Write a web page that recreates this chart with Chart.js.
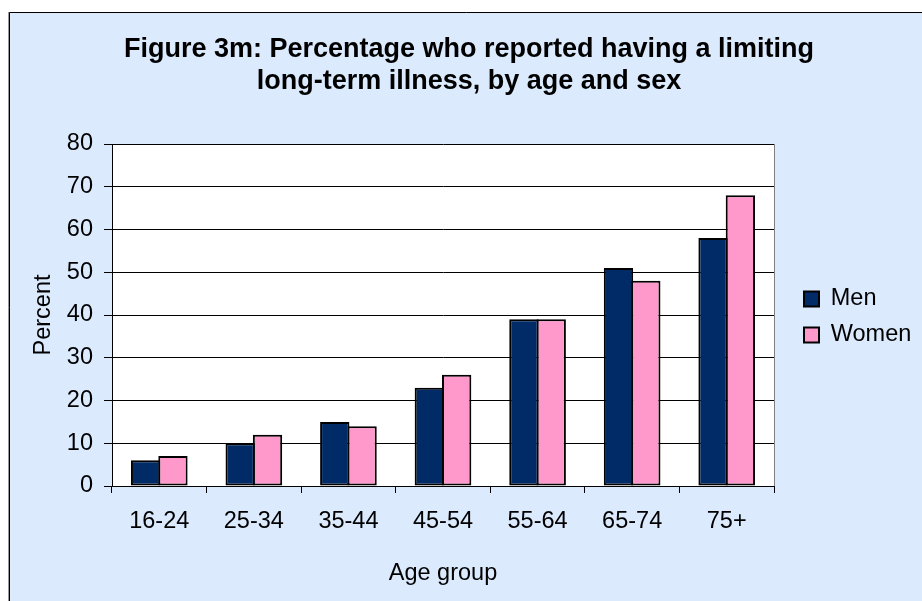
<!DOCTYPE html>
<html>
<head>
<meta charset="utf-8">
<script src="https://cdn.jsdelivr.net/npm/chart.js@4.4.1/dist/chart.umd.min.js"></script>
<style>
html,body{margin:0;padding:0;background:#ffffff;}
#wrap{width:922px;height:601px;position:relative;}
canvas{display:block;}
</style>
</head>
<body>
<div id="wrap"><canvas id="c" width="922" height="601"></canvas></div>
<script>
// ---- data ----
const categories = ['16-24', '25-34', '35-44', '45-54', '55-64', '65-74', '75+'];
const menValues = [6, 10, 15, 23, 39, 51, 58];
const womenValues = [7, 12, 14, 26, 39, 48, 68];
const seriesNames = ['Men', 'Women'];
const yTickMin = 0;
const yTickMax = 80;
const yTickStep = 10;
const titleLines = ['Figure 3m: Percentage who reported having a limiting', 'long-term illness, by age and sex'];
const xAxisTitle = 'Age group';
const yAxisTitle = 'Percent';

// ---- styling / layout ----
const FONT = "'Liberation Sans', Arial, sans-serif";
const BG = '#DBEAFD';
const TARGET = {left: 112, top: 144, right: 774, bottom: 486};
const LEGEND_ITEM_X = 804;
const TITLE_CENTER_X = 469;

const bgPlugin = {
  id: 'bgPlugin',
  afterLayout(chart) {
    const lg = chart.legend;
    if (lg) {
      const dx = LEGEND_ITEM_X - (lg.left + lg.options.labels.padding);
      lg.left += dx; lg.right += dx + 30;
      lg.top += 2; lg.bottom += 2;
    }
    const tb = chart.titleBlock;
    if (tb) {
      const w = tb.right - tb.left;
      tb.left = TITLE_CENTER_X - w / 2;
      tb.right = TITLE_CENTER_X + w / 2;
    }
  },
  beforeDraw(chart) {
    const c = chart.ctx, a = chart.chartArea;
    c.save();
    c.fillStyle = '#ffffff';
    c.fillRect(0, 0, chart.width, chart.height);
    c.fillStyle = BG;
    c.fillRect(9, 12, chart.width, chart.height);
    c.strokeStyle = '#000000';
    c.lineWidth = 1;
    c.beginPath();
    c.moveTo(9.5, chart.height + 2);
    c.lineTo(9.5, 12.5);
    c.lineTo(chart.width + 2, 12.5);
    c.stroke();
    c.strokeStyle = '#9a9a9a';
    c.beginPath();
    c.moveTo(8.5, chart.height + 2);
    c.lineTo(8.5, 12);
    c.stroke();
    c.fillStyle = '#ffffff';
    c.fillRect(a.left, a.top, a.right - a.left, a.bottom - a.top);
    c.restore();
  },
  beforeDatasetsDraw(chart) {
    const c = chart.ctx, a = chart.chartArea;
    c.save();
    c.strokeStyle = '#808080';
    c.lineWidth = 1;
    c.beginPath();
    c.moveTo(Math.round(a.right) + 0.5, a.top);
    c.lineTo(Math.round(a.right) + 0.5, a.bottom);
    c.stroke();
    c.restore();
  }
};

const cfg = {
  type: 'bar',
  data: {
    labels: categories,
    datasets: [
      {
        label: seriesNames[0],
        data: menValues,
        backgroundColor: '#002B66',
        borderColor: '#000000',
        borderWidth: 2,
        borderSkipped: false,
        categoryPercentage: 0.578,
        barPercentage: 1.073
      },
      {
        label: seriesNames[1],
        data: womenValues,
        backgroundColor: '#FF99CC',
        borderColor: '#000000',
        borderWidth: 2,
        borderSkipped: false,
        categoryPercentage: 0.578,
        barPercentage: 1.073
      }
    ]
  },
  options: {
    responsive: false,
    animation: false,
    devicePixelRatio: 1,
    layout: {padding: {left: 0, top: 0, right: 120, bottom: 28}},
    plugins: {
      title: {
        display: true,
        text: titleLines,
        color: '#000000',
        font: {family: FONT, size: 27, weight: 'bold', lineHeight: 1.19},
        padding: {top: 33, bottom: 47}
      },
      legend: {
        display: true,
        position: 'right',
        fullSize: false,
        labels: {
          color: '#000000',
          font: {family: FONT, size: 23.5},
          boxWidth: 15,
          boxHeight: 15,
          padding: 12.5
        }
      },
      tooltip: {enabled: false}
    },
    scales: {
      x: {
        offset: true,
        grid: {
          display: true,
          drawOnChartArea: false,
          drawTicks: true,
          tickLength: 7,
          color: '#000000',
          lineWidth: 1
        },
        border: {display: true, color: '#000000', width: 1},
        ticks: {
          color: '#000000',
          font: {family: FONT, size: 23.5},
          padding: 14,
          maxRotation: 0,
          autoSkip: false
        },
        title: {
          display: true,
          text: xAxisTitle,
          color: '#000000',
          font: {family: FONT, size: 23.5},
          padding: {top: 10, bottom: 0}
        }
      },
      y: {
        min: yTickMin,
        max: yTickMax,
        grid: {
          color: '#000000',
          lineWidth: 1,
          drawTicks: true,
          tickLength: 8
        },
        border: {display: true, color: '#000000', width: 1},
        ticks: {
          stepSize: yTickStep,
          color: '#000000',
          font: {family: FONT, size: 23.5},
          padding: 11
        },
        title: {
          display: true,
          text: yAxisTitle,
          color: '#000000',
          font: {family: FONT, size: 23.5},
          padding: {top: 29, bottom: 0}
        },
        afterFit(scale) { scale.width = TARGET.left; }
      }
    }
  },
  plugins: [bgPlugin]
};

const chart = new Chart(document.getElementById('c'), cfg);

// nudge the layout paddings so the plot area lands where the reference has it
for (let i = 0; i < 5; i++) {
  const a = chart.chartArea;
  const dr = TARGET.right - a.right;
  const dt = TARGET.top - a.top;
  const db = a.bottom - TARGET.bottom;
  if (Math.abs(dr) < 0.05 && Math.abs(dt) < 0.05 && Math.abs(db) < 0.05) break;
  const o = chart.config.options;
  o.layout.padding.right -= dr;
  o.plugins.title.padding.bottom += dt;
  o.layout.padding.bottom += db;
  chart.update('none');
}
</script>
</body>
</html>
